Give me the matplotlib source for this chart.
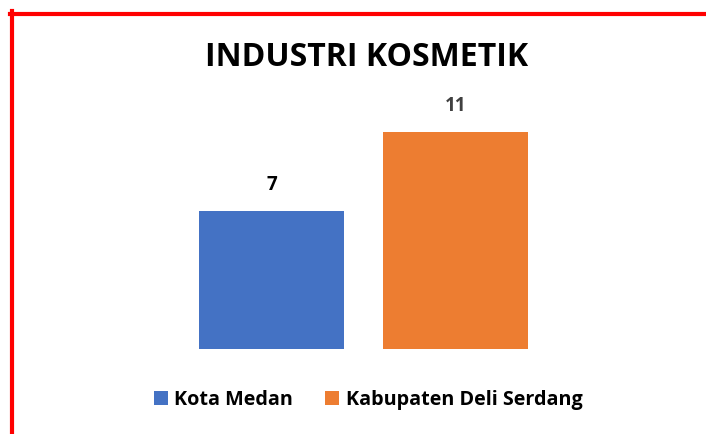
import matplotlib.pyplot as plt
from matplotlib.lines import Line2D
from matplotlib.patches import Patch

plt.rcParams['font.family'] = ['Open Sans', 'DejaVu Sans']

# Data
categories = ["Kota Medan", "Kabupaten Deli Serdang"]
values = [7, 11]
colors = ["#4472C4", "#ED7D31"]
label_colors = ["#000000", "#404040"]

W, H = 706, 434
fig = plt.figure(figsize=(W / 100, H / 100), dpi=100)

# axes placed so that bars land where they are in the picture
ax = fig.add_axes([87.5 / W, (H - 349) / H, 552 / W, 237 / H])
ax.set_xlim(-1, 2)
ax.set_ylim(0, 12)

x = range(len(categories))
bars = ax.bar(x, values, width=0.79, color=colors)

for b, v, c in zip(bars, values, label_colors):
    ax.text(b.get_x() + b.get_width() / 2, v + 0.8, str(v),
            ha="center", va="bottom", fontsize=13.5, fontweight="bold", color=c)

ax.axis("off")

fig.text(366.5 / W, (H - 58) / H, "INDUSTRI KOSMETIK", ha="center", va="center",
         fontsize=23, fontweight="bold", color="black")

handles = [Patch(facecolor=c, label=n) for n, c in zip(categories, colors)]
fig.legend(handles=handles, loc="center", bbox_to_anchor=(368 / W, (H - 400) / H),
           ncol=2, frameon=False, handlelength=0.7, handleheight=0.7,
           handletextpad=0.35, columnspacing=1.6,
           prop={"weight": "bold", "size": 14.2})

# red frame on the top and left edges
fig.add_artist(Line2D([12 / W, 12 / W], [0, (H - 11) / H], color="red", lw=3))
fig.add_artist(Line2D([10 / W, 1], [(H - 13.5) / H, (H - 13.5) / H], color="red", lw=3))

fig.savefig("out.png", dpi=100)
